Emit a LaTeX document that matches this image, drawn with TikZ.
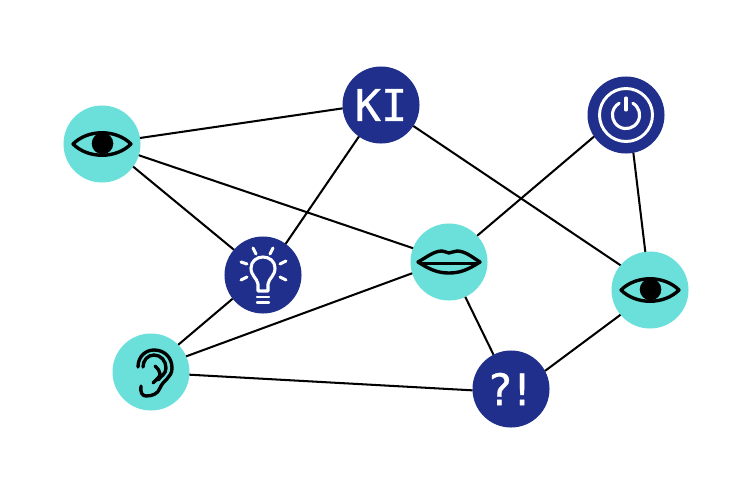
\documentclass[tikz,border=0pt]{standalone}
\usepackage{fontspec}
\newfontfamily\monofont[FakeBold=0.6]{DejaVu Sans Mono}
\usepackage{xcolor}
\definecolor{senseTeal}{HTML}{6BE0DA}
\definecolor{logicBlue}{HTML}{1F2F8B}
\usetikzlibrary{positioning}

\begin{document}
\begin{tikzpicture}[x=0.025cm, y=-0.025cm,
                sense/.style={circle, minimum size=1.925cm, inner sep=0pt, outer sep=0pt, fill=senseTeal},
                logic/.style={circle, minimum size=1.925cm, inner sep=0pt, outer sep=0pt, fill=logicBlue, text=white, font=\monofont\fontsize{31}{31}\selectfont},
                link/.style={draw, black, line width=1.45pt},
                blackicon/.style={draw, black, line width=2.4pt, line cap=round, line join=round},
                whiteicon/.style={draw, white, line width=2.2pt, line cap=round, line join=round},
                eyeicon/.pic={
                    \path[blackicon] (-29,0) .. controls (-14,-15) and (14,-15) .. (29,0) .. controls (14,15) and (-14,15) .. (-29,0) -- cycle;
                    \fill[black] (0.5,-0.5) circle (10.8);
                },
                lipsicon/.pic={
                    \path[blackicon] (-31,0) .. controls (-22,-5) and (-15,-11) .. (-7,-11) .. controls (-4,-11) and (-2,-9) .. (0,-9) .. controls (2,-9) and (5,-11) .. (8,-11) .. controls (16,-11) and (23,-5) .. (31,0) .. controls (20,7) and (12,11) .. (0,11) .. controls (-12,11) and (-20,7) .. (-31,0) -- cycle;
                    \path[blackicon] (-29,1.5) -- (29,1.5);
                },
                earicon/.pic={
                    \path[blackicon] (-13,-5) .. controls (-13,-16) and (-5,-22) .. (3,-22) .. controls (14,-22) and (21,-14) .. (21,-4) .. controls (21,6) and (12,8) .. (9,16) .. controls (7,22) and (1,24) .. (-5,24) .. controls (-9,24) and (-11,20) .. (-10,14);
                    \path[blackicon] (-8,-5) .. controls (-8,-12) and (-3,-17) .. (3,-17) .. controls (10,-17) and (15,-11) .. (15,-4) .. controls (15,2) and (10,4) .. (7,8);
                    \path[blackicon] (4,-6) .. controls (7,-3) and (9,-1) .. (9,2) .. controls (9,5) and (5,8) .. (2,11);
                },
                bulbicon/.pic={
                    \path[whiteicon] (-5,16) -- (-5,9) .. controls (-6,3) and (-12,1) .. (-12,-7) .. controls (-12,-14) and (-6,-18) .. (0,-18) .. controls (6,-18) and (12,-14) .. (12,-7) .. controls (12,1) and (6,3) .. (5,9) -- (5,16) -- cycle;
                    \path[whiteicon, line width=1.7pt] (-6,22) -- (6,22);
                    \path[whiteicon, line width=1.7pt] (-6,27.5) -- (6,27.5);
                    \path[whiteicon] (-10,-27) -- (-7,-21);
                    \path[whiteicon] (10,-27) -- (7,-21);
                    \path[whiteicon] (-22,-13) -- (-16,-11);
                    \path[whiteicon] (23,-14) -- (17,-11);
                    \path[whiteicon] (-22,5) -- (-16,2);
                    \path[whiteicon] (23,5) -- (17,2);
                },
                powericon/.pic={
                    \draw[white, line width=2.1pt] (0,0) circle (26.5);
                    \path[whiteicon] (6.8,-11.8) arc[start angle=-60, end angle=240, radius=13.6];
                    \path[whiteicon] (0,-17) -- (0,-5);
                }
            ]

            \useasboundingbox (0,0) rectangle (740,493);

            \node (eyeleft) at (102,144) [sense] {};
            \node (eyeright) at (650,290) [sense] {};
            \node (lips) at (449,262) [sense] {};
            \node (ear) at (151,372) [sense] {};

            \node (ki) at (381,105) [logic] {KI};
            \node (power) at (626,115) [logic] {};
            \node (bulb) at (263,275) [logic] {};
            \node (mark) at (511,389) [logic] {?\hspace{-3pt}!};

            \path[link] (eyeleft.9) -- (ki.185);
            \path[link] (eyeleft.-36) -- (bulb.139);
            \path[link] (eyeleft.-17) -- (lips.159);
            \path[link] (ki.235) -- (bulb.54);
            \path[link] (ki.-33) -- (eyeright.140);
            \path[link] (power.214) -- (lips.43);
            \path[link] (power.-79) -- (eyeright.97);
            \path[link] (bulb.218) -- (ear.45);
            \path[link] (lips.197) -- (ear.24);
            \path[link] (lips.-65) -- (mark.117);
            \path[link] (ear.-4) -- (mark.182);
            \path[link] (mark.28) -- (eyeright.220);

            \pic at (eyeleft) {eyeicon};
            \pic at (eyeright) {eyeicon};
            \pic at (lips) {lipsicon};
            \pic at (ear) {earicon};
            \pic at (bulb) {bulbicon};
            \pic at (power) {powericon};
        \end{tikzpicture}
\end{document}
